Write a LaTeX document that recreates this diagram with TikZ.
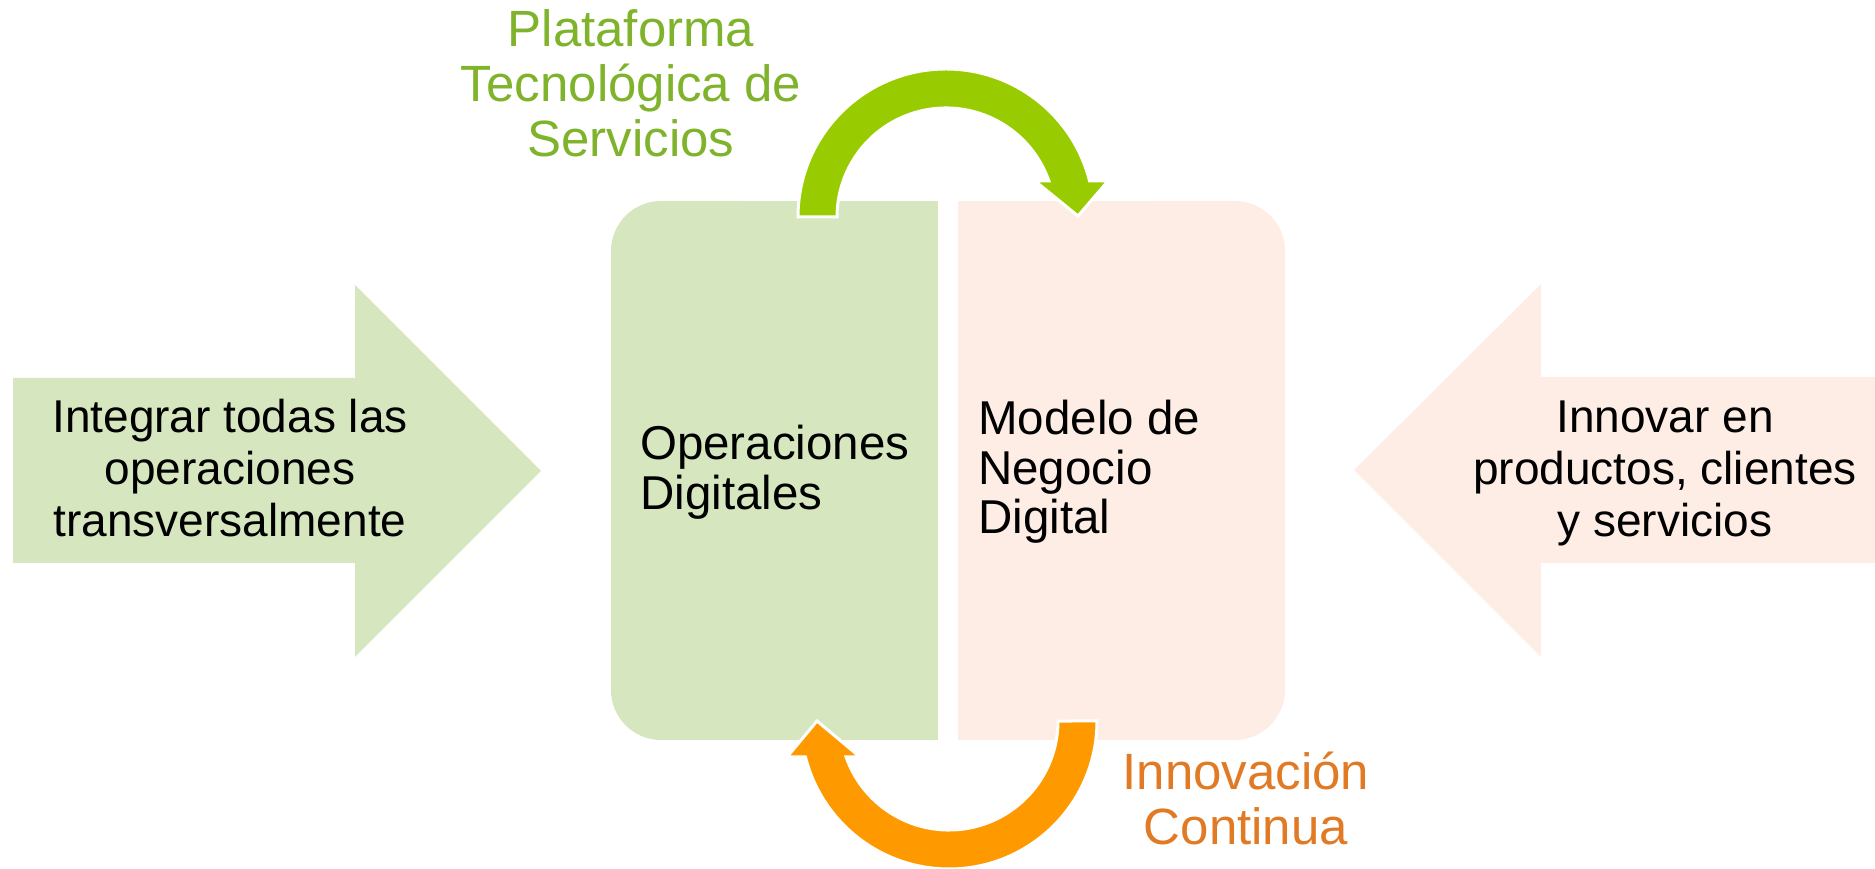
\documentclass[tikz,border=0pt]{standalone}
\usepackage{fontspec}
\setmainfont{Liberation Sans}
\definecolor{lgreen}{HTML}{D6E6BF}
\definecolor{lpink}{HTML}{FDEDE5}
\definecolor{agreen}{HTML}{99CC00}
\definecolor{aorange}{HTML}{FF9900}
\definecolor{tgreen}{HTML}{7FB32B}
\definecolor{torange}{HTML}{E17A24}
\newcommand{\mlines}[2]{\begin{tabular}[t]{@{}#1@{}}#2\end{tabular}}
\tikzset{
  sidetxt/.style={inner sep=0, font=\fontsize{46}{52}\selectfont, text=black},
  boxtxt/.style={inner sep=0, font=\fontsize{47.5}{49.5}\selectfont, text=black},
  lbltxt/.style={inner sep=0, font=\fontsize{51}{55}\selectfont},
  bigarrow/.style={draw=white, line width=3pt, line join=miter}
}
\begin{document}
\begin{tikzpicture}[x=1pt,y=1pt]
\useasboundingbox (0,0) rectangle (1875,869);
% side arrows
\fill[lgreen] (13,491) -- (355,491) -- (355,584) -- (541,398) -- (355,212) -- (355,306) -- (13,306) -- cycle;
\fill[lpink] (1880,492) -- (1541,492) -- (1541,585) -- (1354,399) -- (1541,212) -- (1541,306) -- (1880,306) -- cycle;
% central boxes
\fill[lgreen, rounded corners=50] (790,129) -- (611,129) -- (611,668) -- (790,668) -- cycle;
\fill[lgreen] (700,129) rectangle (938,668);
\fill[lpink, rounded corners=50] (1100,129) -- (1285,129) -- (1285,668) -- (1100,668) -- cycle;
\fill[lpink] (958,129) rectangle (1180,668);
% circular arrows
\filldraw[fill=agreen, bigarrow] (798,652) arc[start angle=180, end angle=14.08, radius=148]
  -- (1108,688) -- (1078,653) -- (1035,688) -- (1048.9,688)
  arc[start angle=19.28, end angle=180, radius=109] -- cycle;
\filldraw[fill=aorange, bigarrow] (1097,148) arc[start angle=0, end angle=-165.92, radius=148]
  -- (787,112) -- (817,148) -- (860,112) -- (846.1,112)
  arc[start angle=-160.72, end angle=0, radius=109] -- cycle;
% texts
\node[sidetxt, anchor=base] (integrar) at (230,436) {\mlines{c}{Integrar todas las\\operaciones\\transversalmente}};
\node[sidetxt, anchor=base] (innovar) at (1665,436) {\mlines{c}{Innovar en\\productos, clientes\\y servicios}};
\node[boxtxt, anchor=base west] (ops) at (640,409) {\mlines{l}{Operaciones\\Digitales}};
\node[boxtxt, anchor=base west] (modelo) at (978,434) {\mlines{l}{Modelo de\\Negocio\\Digital}};
\node[lbltxt, text=tgreen, anchor=base] (plataforma) at (631,822) {\mlines{c}{Plataforma\\Tecnológica de\\Servicios}};
\node[lbltxt, text=torange, anchor=base] (innovacion) at (1246,79) {\mlines{c}{Innovación\\Continua}};
\end{tikzpicture}
\end{document}
